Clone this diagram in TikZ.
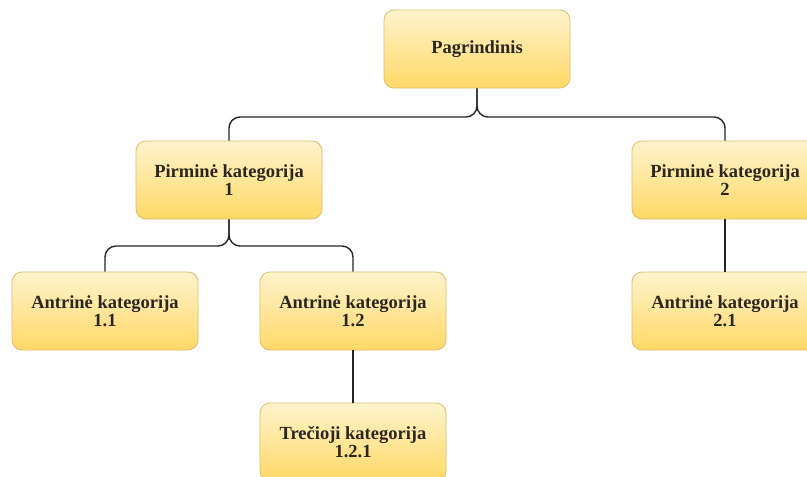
\documentclass[tikz,border=0pt]{standalone}
\usepackage{fontspec}
\setmainfont{Liberation Serif}
\usepackage{tikz}

\definecolor{boxtop}{HTML}{FFF3CD}
\definecolor{boxbot}{HTML}{FFD865}
\definecolor{boxline}{HTML}{D9BE6C}
\definecolor{boxtext}{HTML}{2A2620}

\begin{document}
\begin{tikzpicture}[x=1pt,y=-1pt]
	\tikzstyle{every node}+=[inner sep=0pt]
	\tikzstyle{kat}=[rectangle, rounded corners=10, minimum width=186, minimum height=78, draw=boxline, line width=0.8, top color=boxtop, bottom color=boxbot, align=center, text=boxtext, font=\bfseries\fontsize{18.5}{18.5}\selectfont]
	\tikzstyle{jung}=[draw=black!85, line width=1.4, rounded corners=11]
	\useasboundingbox (0,0) rectangle (807,477);
	\fill[white] (0,0) rectangle (807,477);
	% mazgai
	\draw (477,49) node[kat] (pagr) {Pagrindinis};
	\draw (229,180) node[kat] (pirm1) {Pirminė kategorija\\1};
	\draw (725,180) node[kat] (pirm2) {Pirminė kategorija\\2};
	\draw (105,311) node[kat] (antr11) {Antrinė kategorija\\1.1};
	\draw (353,311) node[kat] (antr12) {Antrinė kategorija\\1.2};
	\draw (725,311) node[kat] (antr21) {Antrinė kategorija\\2.1};
	\draw (353,442) node[kat] (trec121) {Trečioji kategorija\\1.2.1};
	% sankirtos
	\coordinate (s0) at (477,117);
	\coordinate (s1) at (229,246);
	% jungtys
	\draw[jung] (pagr.south) -- (s0) -| (pirm1.north);
	\draw[jung] (pagr.south) -- (s0) -| (pirm2.north);
	\draw[jung] (pirm1.south) -- (s1) -| (antr11.north);
	\draw[jung] (pirm1.south) -- (s1) -| (antr12.north);
	\draw[jung] (pirm2.south) -- (antr21.north);
	\draw[jung] (antr12.south) -- (trec121.north);
\end{tikzpicture}
\end{document}
